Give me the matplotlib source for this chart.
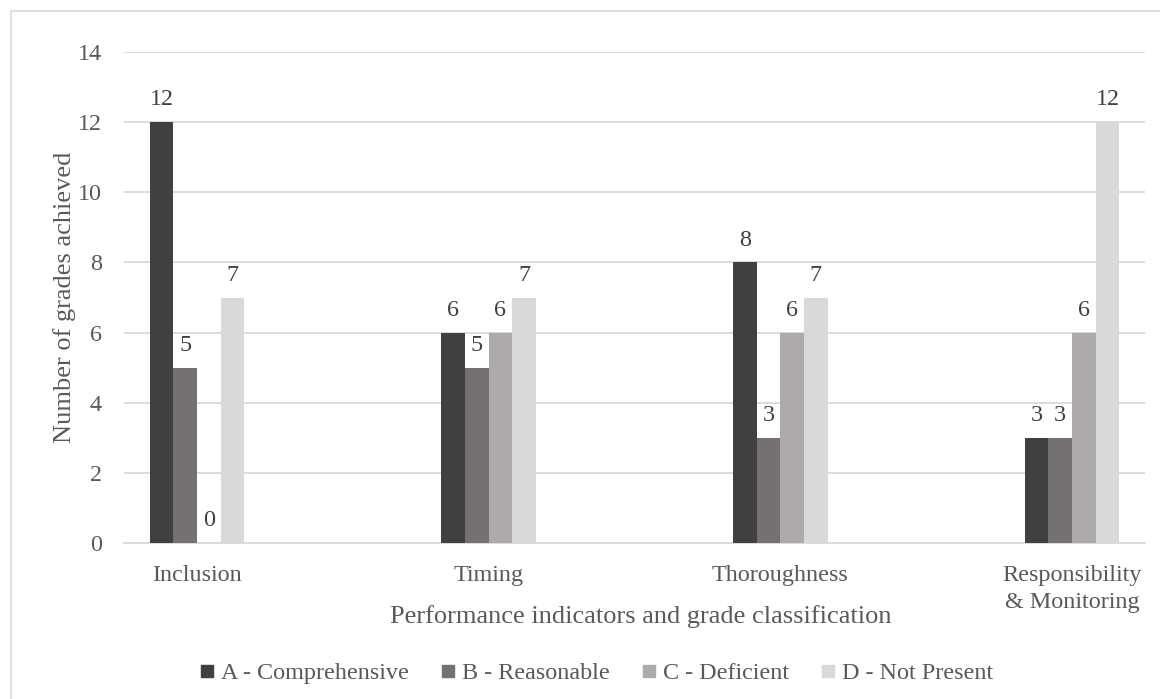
import matplotlib.pyplot as plt
from matplotlib.lines import Line2D
from matplotlib.patches import Rectangle
import numpy as np

# data
categories = ["Inclusion", "Timing", "Thoroughness", "Responsibility\n& Monitoring"]
grades = ["A - Comprehensive", "B - Reasonable", "C - Deficient", "D - Not Present"]
grade_a = [12, 6, 8, 3]
grade_b = [5, 5, 3, 3]
grade_c = [0, 6, 6, 6]
grade_d = [7, 7, 7, 12]
colors = ["#404040", "#767171", "#AEAAAA", "#D9D9D9"]

text_col = "#595959"
grid_col = "#D9D9D9"
fs = 17.4

plt.rcParams["font.family"] = ["Liberation Serif", "DejaVu Serif"]

fig = plt.figure(figsize=(11.6, 6.99), dpi=100)
ax = fig.add_axes([124 / 1160, 156 / 699, 1021 / 1160, 491 / 699])

# chart border (only left/top visible in the crop)
fig.add_artist(Rectangle((11 / 1160, -0.1), 1.2, (699 - 11) / 699 + 0.1,
                         transform=fig.transFigure, fill=False,
                         edgecolor=grid_col, linewidth=1.2))

x = np.arange(len(categories))
width = 0.081
series = [grade_a, grade_b, grade_c, grade_d]
for i, (vals, col, name) in enumerate(zip(series, colors, grades)):
    pos = x + (i - 1.5) * width
    ax.bar(pos, vals, width=width, color=col, label=name, zorder=3)
    for px, v in zip(pos, vals):
        ax.annotate(str(v), (px, v), xytext=(0, 12), textcoords="offset points",
                    ha="center", va="baseline", fontsize=fs, color="#404040")

ax.set_xlim(-0.25, 3.25)
ax.set_ylim(0, 14)
ax.set_yticks(range(0, 15, 2))
ax.set_xticks(x)
ax.set_xticklabels(categories, linespacing=1.4)
ax.grid(axis="y", color=grid_col, linewidth=1.3, zorder=0)
ax.tick_params(axis="both", length=0, labelsize=fs, labelcolor=text_col)
ax.tick_params(axis="y", pad=16)
ax.tick_params(axis="x", pad=15.5)
for s in ["top", "right", "left"]:
    ax.spines[s].set_visible(False)
ax.spines["bottom"].set_color(grid_col)
ax.spines["bottom"].set_linewidth(1.3)

ax.set_xlabel("Performance indicators and grade classification",
              fontsize=19, color=text_col, va="center")
ax.xaxis.set_label_coords(0.506, -0.149)
ax.set_ylabel("Number of grades achieved", fontsize=19, color=text_col, va="center")
ax.yaxis.set_label_coords(-0.058, 0.5)

handles = [Line2D([], [], marker="s", linestyle="none", markersize=8.6,
                  markerfacecolor=c, markeredgecolor=c) for c in colors]
leg = ax.legend(handles, grades, loc="center", bbox_to_anchor=(0.463, -0.265),
                ncol=4, frameon=False, fontsize=fs, handlelength=0.55,
                handletextpad=0.3, columnspacing=1.35, borderpad=0)
for t in leg.get_texts():
    t.set_color(text_col)

fig.savefig("out.png", dpi=100, facecolor="white")
